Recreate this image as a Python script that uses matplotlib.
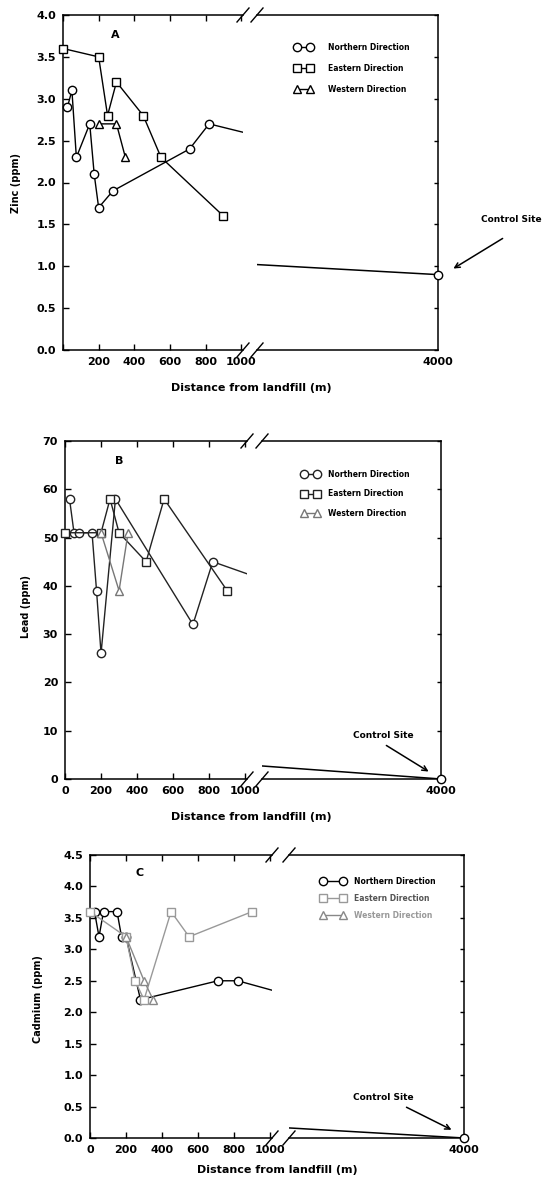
import matplotlib
matplotlib.use("Agg")
import matplotlib.pyplot as plt
from matplotlib.lines import Line2D

plt.rcParams["font.family"] = ["DejaVu Sans"]
plt.rcParams["font.weight"] = "bold"

W, H = 548, 1177

# distance axis
near_ticks = [0, 200, 400, 600, 800, 1000]
control_dist = 4000
directions = ["Northern Direction", "Eastern Direction", "Western Direction"]

# A - zinc
zn_north_x = [25, 50, 75, 150, 175, 200, 280, 710, 820]
zn_north_y = [2.9, 3.1, 2.3, 2.7, 2.1, 1.7, 1.9, 2.4, 2.7]
zn_east_x = [0, 200, 250, 300, 450, 550, 900]
zn_east_y = [3.6, 3.5, 2.8, 3.2, 2.8, 2.3, 1.6]
zn_west_x = [200, 300, 350]
zn_west_y = [2.7, 2.7, 2.3]
zn_north_tail = (1010, 2.6)
zn_control_line = [1.02, 0.9]

# B - lead
pb_north_x = [25, 50, 75, 150, 175, 200, 280, 710, 820]
pb_north_y = [58, 51, 51, 51, 39, 26, 58, 32, 45]
pb_east_x = [0, 200, 250, 300, 450, 550, 900]
pb_east_y = [51, 51, 58, 51, 45, 58, 39]
pb_west_x = [200, 300, 350]
pb_west_y = [51, 39, 51]
pb_north_tail = (1010, 42.5)
pb_control_line = [2.7, 0.0]

# C - cadmium
cd_north_x = [25, 50, 75, 150, 175, 200, 280, 710, 820]
cd_north_y = [3.6, 3.2, 3.6, 3.6, 3.2, 3.2, 2.2, 2.5, 2.5]
cd_east_x = [0, 200, 250, 300, 450, 550, 900]
cd_east_y = [3.6, 3.2, 2.5, 2.2, 3.6, 3.2, 3.6]
cd_west_x = [200, 300, 350]
cd_west_y = [3.2, 2.5, 2.2]
cd_north_tail = (1010, 2.35)
cd_control_line = [0.16, 0.0]


def fx(px):
    return px / W


def fy(py):
    return 1 - py / H


fig = plt.figure(figsize=(W / 100, H / 100), dpi=100)


def draw_panel(g, ylim, yticks, ylabels, xlabels, north, east, west, tail,
               ctrl, colors, letter, ylab):
    x0, xl, xr, x1, top, bot = g["box"]
    axl = fig.add_axes([fx(x0), fy(bot), fx(xl) - fx(x0), fy(top) - fy(bot)])
    axr = fig.add_axes([fx(xr), fy(bot), fx(x1) - fx(xr), fy(top) - fy(bot)])
    axl.set_xlim(0, 1010)
    axr.set_xlim(1000, control_dist)
    for a in (axl, axr):
        a.set_ylim(*ylim)
        a.set_yticks(yticks)
        for s in a.spines.values():
            s.set_linewidth(1.1)
    axl.spines["right"].set_visible(False)
    axr.spines["left"].set_visible(False)

    axl.set_xticks(near_ticks)
    axl.set_xticklabels(xlabels, fontsize=8, fontweight="bold")
    axl.set_yticklabels(ylabels, fontsize=8, fontweight="bold")
    axl.tick_params(direction="in", top=True, right=False, length=4,
                    width=1, pad=5)
    axr.set_xticks([control_dist])
    axr.set_xticklabels([str(control_dist)], fontsize=8, fontweight="bold")
    axr.tick_params(direction="in", left=False, right=True, labelleft=False,
                    top=False, length=3, width=1, pad=5)
    axr.tick_params(axis="x", length=0)

    handles = []
    for (xs, ys), m, c, lab in zip([north, east, west], ["o", "s", "^"],
                                   colors, directions):
        ln, = axl.plot(xs, ys, color=c, lw=1.0, marker=m, ms=6,
                       mfc="white", mec=c, mew=1.0, label=lab,
                       clip_on=False, zorder=3)
        handles.append(ln)
    axl.plot([north[0][-1], tail[0]], [north[1][-1], tail[1]],
             color=colors[0], lw=1.0, zorder=2)

    axr.plot([1000, control_dist], ctrl, color="black", lw=1.1)
    axr.plot([control_dist], [ctrl[-1]], "o", ms=6, mfc="white",
             mec="black", mew=1.0, clip_on=False, zorder=4)

    # axis break marks
    for X in (xl, xr):
        for Y in (top, bot):
            fig.add_artist(Line2D([fx(X - 6), fx(X + 6)], [fy(Y + 7), fy(Y - 7)],
                                  color="black", lw=1.0,
                                  transform=fig.transFigure))

    lx, ly, hl, pad, sp = g["legend"]
    leg = fig.legend(handles=handles, loc="upper left",
                     bbox_to_anchor=(fx(lx), fy(ly)), frameon=False,
                     fontsize=5.5, numpoints=2, handlelength=hl,
                     handletextpad=pad, labelspacing=sp, borderpad=0,
                     borderaxespad=0)
    for t, c in zip(leg.get_texts(), g["legend_colors"]):
        t.set_color(c)

    tx, ty = g["letter"]
    fig.text(fx(tx), fy(ty), letter, fontsize=8, fontweight="bold",
             ha="center", va="center")
    yx, yy = g["ylabel"]
    fig.text(fx(yx), fy(yy), ylab, fontsize=7, fontweight="bold",
             rotation=90, ha="center", va="center")
    xx, xy = g["xlabel"]
    fig.text(fx(xx), fy(xy), "Distance from landfill (m)", fontsize=8,
             fontweight="bold", ha="center", va="center")

    ctx, cty, ax0, ay0, ax1, ay1 = g["control"]
    fig.text(fx(ctx), fy(cty), "Control Site", fontsize=6.5,
             fontweight="bold", ha="center", va="center")
    fig.add_artist(plt.matplotlib.patches.FancyArrowPatch(
        (fx(ax0), fy(ay0)), (fx(ax1), fy(ay1)), transform=fig.transFigure,
        arrowstyle="->", mutation_scale=9, lw=1.1, color="black"))


geo_a = dict(box=(63, 243, 257, 438, 15, 350),
             legend=(295, 43, 2.3, 2.0, 1.55),
             legend_colors=["black", "black", "black"],
             letter=(115, 35), ylabel=(16, 183), xlabel=(251, 388),
             control=(511, 219, 505, 237, 451, 270))
geo_b = dict(box=(65, 247, 262, 441, 441, 779),
             legend=(302, 470, 2.3, 1.15, 1.35),
             legend_colors=["black", "black", "black"],
             letter=(119, 461), ylabel=(26, 607), xlabel=(251, 817),
             control=(383, 735, 384, 744, 431, 773))
geo_c = dict(box=(90, 272, 289, 464, 855, 1138),
             legend=(321, 877, 3.2, 1.15, 1.05),
             legend_colors=["black", "#555555", "#999999"],
             letter=(140, 873), ylabel=(38, 999), xlabel=(277, 1170),
             control=(383, 1097, 404, 1106, 454, 1131))

zn_ticks = [0.0, 0.5, 1.0, 1.5, 2.0, 2.5, 3.0, 3.5, 4.0]
pb_ticks = [0, 10, 20, 30, 40, 50, 60, 70]
cd_ticks = [0.0, 0.5, 1.0, 1.5, 2.0, 2.5, 3.0, 3.5, 4.0, 4.5]

draw_panel(geo_a, (0, 4.0), zn_ticks, [f"{v:.1f}" for v in zn_ticks],
           ["", "200", "400", "600", "800", "1000"],
           (zn_north_x, zn_north_y), (zn_east_x, zn_east_y),
           (zn_west_x, zn_west_y), zn_north_tail, zn_control_line,
           ["black", "black", "black"], "A", "Zinc (ppm)")
draw_panel(geo_b, (0, 70), pb_ticks, [str(v) for v in pb_ticks],
           [str(v) for v in near_ticks],
           (pb_north_x, pb_north_y), (pb_east_x, pb_east_y),
           (pb_west_x, pb_west_y), pb_north_tail, pb_control_line,
           ["#222222", "#222222", "#777777"], "B", "Lead (ppm)")
draw_panel(geo_c, (0, 4.5), cd_ticks, [f"{v:.1f}" for v in cd_ticks],
           [str(v) for v in near_ticks],
           (cd_north_x, cd_north_y), (cd_east_x, cd_east_y),
           (cd_west_x, cd_west_y), cd_north_tail, cd_control_line,
           ["black", "#999999", "#888888"], "C", "Cadmium (ppm)")

fig.savefig("out.png", dpi=100)
